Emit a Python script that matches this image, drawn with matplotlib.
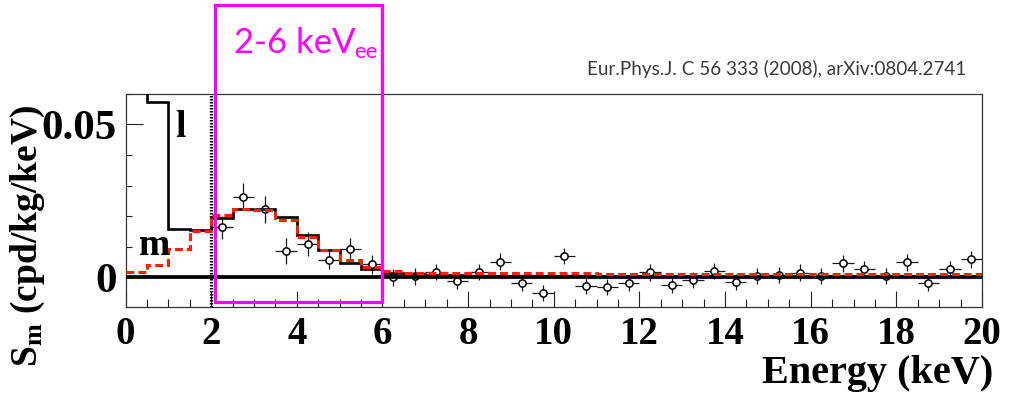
import numpy as np
import matplotlib
matplotlib.use("Agg")
import matplotlib.pyplot as plt
from matplotlib.ticker import MultipleLocator, FixedLocator, FuncFormatter
from matplotlib.patches import Rectangle

# Histogram bin edges (keV), 0.5 keV bins from 0 to 20
bin_edges = np.arange(0.0, 20.0001, 0.5)

# Expected modulation amplitude, model "l" (black)
l_model = [0.075, 0.0572, 0.0157, 0.0155, 0.0193, 0.0225, 0.0225, 0.0196,
           0.0138, 0.0089, 0.0046, 0.0027,
           0.0014, 0.0010, 0.0008, 0.0007, 0.0006, 0.0006,
           0.0005, 0.0005, 0.0005, 0.0005,
           0.0004, 0.0004, 0.0004, 0.0004, 0.0004, 0.0004, 0.0004,
           0.0003, 0.0003, 0.0003, 0.0003, 0.0003, 0.0003, 0.0003,
           0.0003, 0.0003, 0.0003, 0.0003]

# Expected modulation amplitude, model "m" (red dashed)
m_model = [0.0016, 0.0040, 0.0091, 0.0151, 0.0204, 0.0225, 0.0220, 0.0187,
           0.0133, 0.0089, 0.0057, 0.0035,
           0.0022, 0.0015, 0.0014, 0.0014,
           0.0013, 0.0013, 0.0013, 0.0013, 0.0013, 0.0013,
           0.0012, 0.0012, 0.0012, 0.0012, 0.0012, 0.0012, 0.0012, 0.0012, 0.0012,
           0.0011, 0.0011, 0.0011, 0.0011, 0.0011, 0.0011, 0.0011, 0.0011, 0.0011]

# Measured modulation amplitudes
energy = [2.25, 2.75, 3.25, 3.75, 4.25, 4.75, 5.25, 5.75,
          6.25, 6.75, 7.25, 7.75, 8.25, 8.75, 9.25, 9.75,
          10.25, 10.75, 11.25, 11.75, 12.25, 12.75, 13.25, 13.75,
          14.25, 14.75, 15.25, 15.75, 16.25, 16.75, 17.25, 17.75,
          18.25, 18.75, 19.25, 19.75]
sm = [0.0163, 0.0263, 0.0222, 0.0086, 0.0109, 0.0057, 0.0092, 0.0042,
      0.0000, 0.0004, 0.0018, -0.0012, 0.0018, 0.0051, -0.0020, -0.0052,
      0.0070, -0.0028, -0.0031, -0.0018, 0.0016, -0.0025, -0.0009, 0.0021,
      -0.0016, 0.0004, 0.0008, 0.0015, 0.0004, 0.0046, 0.0026, 0.0005,
      0.0049, -0.0018, 0.0026, 0.0059]
sm_err = [0.0038, 0.0044, 0.0044, 0.0042, 0.0039, 0.0029, 0.0035, 0.0031,
          0.0027, 0.0028, 0.0027, 0.0027, 0.0027, 0.0027, 0.0026, 0.0026,
          0.0027, 0.0027, 0.0027, 0.0027, 0.0027, 0.0027, 0.0027, 0.0027,
          0.0027, 0.0027, 0.0027, 0.0027, 0.0027, 0.0027, 0.0027, 0.0027,
          0.0027, 0.0027, 0.0027, 0.0027]
energy_halfwidth = 0.25

x_major = [0, 2, 4, 6, 8, 10, 12, 14, 16, 18, 20]
y_major = [0.0, 0.05]

W, H = 1009, 399
SERIF = "Liberation Serif"

plt.rcParams["mathtext.fontset"] = "custom"
plt.rcParams["mathtext.rm"] = "Liberation Serif"
plt.rcParams["mathtext.bf"] = "Liberation Serif:bold"
plt.rcParams["mathtext.it"] = "Liberation Serif:italic"

fig = plt.figure(figsize=(W / 100, H / 100), dpi=100)
ax = fig.add_axes([125.5 / W, 1 - 306.7 / H, (982 - 125.5) / W, (306.7 - 93.5) / H])

ax.set_xlim(0, 20)
ax.set_ylim(-0.0096, 0.0601)

# data points (drawn beneath the model curves)
ax.errorbar(energy, sm, yerr=sm_err, xerr=energy_halfwidth, fmt="o",
            ms=5.2, mfc="white", mec="black", mew=1.1,
            ecolor="#1a1a1a", elinewidth=0.9, capsize=0, zorder=2)

# zero line
ax.plot([0, 20], [0, 0], color="black", lw=2.7, zorder=3, solid_capstyle="butt")

# model histograms
ax.stairs(l_model, bin_edges, baseline=None, color="black", lw=1.9, zorder=4)
ax.stairs(m_model, bin_edges, baseline=None, color="#ff2000", lw=2.2,
          linestyle=(0, (2.6, 1.3)), zorder=5)

# threshold marker at 2 keV
ax.axvline(2.0, color="black", lw=2.4, linestyle=(0, (0.45, 0.45)), zorder=3)

# curve labels
ax.text(1.28, 0.0490, "l", fontfamily=SERIF, fontweight="bold", fontsize=27,
        ha="center", va="center", zorder=6)
ax.text(0.69, 0.0105, "m", fontfamily=SERIF, fontweight="bold", fontsize=27,
        ha="center", va="center", zorder=6)

# ticks
ax.xaxis.set_major_locator(FixedLocator(x_major))
ax.xaxis.set_minor_locator(MultipleLocator(0.5))
ax.yaxis.set_major_locator(FixedLocator(y_major))
ax.yaxis.set_minor_locator(MultipleLocator(0.01))
ax.yaxis.set_major_formatter(FuncFormatter(lambda v, p: "0" if abs(v) < 1e-12 else f"{v:g}"))
ax.tick_params(axis="both", which="both", direction="in", color="#222222", width=0.8,
               top=False, right=False)
ax.tick_params(axis="x", which="major", length=11.5, pad=6.5)
ax.tick_params(axis="x", which="minor", length=5.8)
ax.tick_params(axis="y", which="major", length=12, pad=6.5)
ax.tick_params(axis="y", which="minor", length=4.3)
for lab in ax.get_xticklabels():
    lab.set_fontfamily(SERIF)
    lab.set_fontweight("bold")
    lab.set_fontsize(28)
for lab in ax.get_yticklabels():
    lab.set_fontfamily(SERIF)
    lab.set_fontweight("bold")
    lab.set_fontsize(31)
for sp in ax.spines.values():
    sp.set_linewidth(0.9)
    sp.set_color("#333333")

# axis titles
fig.text(993 / W, 1 - 374 / H, "Energy (keV)", fontfamily=SERIF, fontweight="bold",
         fontsize=29, ha="right", va="center")
fig.text(28 / W, 1 - 236 / H, r"S$_\mathbf{m}$ (cpd/kg/keV)", fontfamily=SERIF,
         fontweight="bold", fontsize=27, rotation=90, ha="center", va="center")

# highlighted energy window
fig.patches.append(Rectangle((215 / W, 1 - 302 / H), (382 - 215) / W, (302 - 5) / H,
                             transform=fig.transFigure, fill=False,
                             edgecolor="#ff00ff", lw=2.3, zorder=10))
fig.text(234 / W, 1 - 53 / H, "2-6 keV", fontfamily="Lato", fontsize=25,
         color="#ff00ff", ha="left", va="baseline")
fig.text(354 / W, 1 - 58 / H, "ee", fontfamily="Lato", fontsize=16,
         color="#ff00ff", ha="left", va="baseline")

# reference
fig.text(966 / W, 1 - 69 / H, "Eur.Phys.J. C 56 333 (2008), arXiv:0804.2741",
         fontfamily="Lato", fontsize=13.6, color="#3a3a3a", ha="right", va="center")

fig.savefig("out.png", dpi=100)
